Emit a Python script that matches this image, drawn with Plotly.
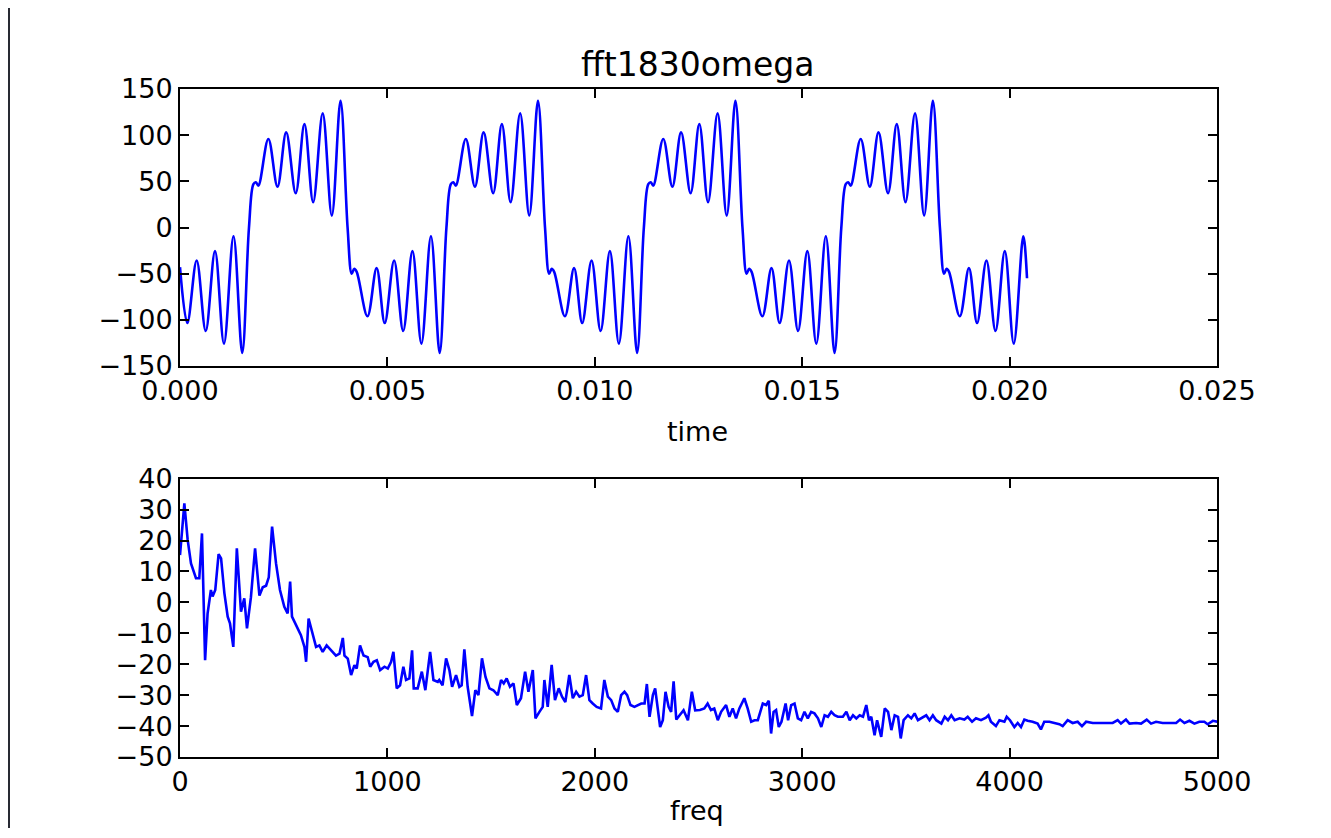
import plotly.graph_objects as go
from plotly.subplots import make_subplots

# ---------------- data: time signal (key points) ----------------
time_s = [
    0.0, 0.000176, 0.000402, 0.00062, 0.000844, 0.00106, 0.00129, 0.0015, 0.001663,
    0.00177, 0.00183, 0.00189, 0.00213, 0.00235, 0.00256, 0.00279, 0.00300, 0.00321,
    0.00344, 0.00366, 0.00387, 0.00404, 0.00414, 0.00420, 0.00426, 0.00452, 0.00474,
    0.004936, 0.005162, 0.00538, 0.005604, 0.00582, 0.00605, 0.00626, 0.006423,
    0.00653, 0.00659, 0.00665, 0.00689, 0.00711, 0.00732, 0.00755, 0.00776, 0.00797,
    0.00820, 0.00842, 0.00863, 0.00880, 0.00890, 0.00896, 0.00902, 0.00928, 0.00950,
    0.009696, 0.009922, 0.01014, 0.010364, 0.01058, 0.01081, 0.01102, 0.011183,
    0.01129, 0.01135, 0.01141, 0.01165, 0.01187, 0.01208, 0.01231, 0.01252, 0.01273,
    0.01296, 0.01318, 0.01339, 0.01356, 0.01366, 0.01372, 0.01378, 0.01404, 0.01426,
    0.014456, 0.014682, 0.01490, 0.015124, 0.01534, 0.01557, 0.01578, 0.015943,
    0.01605, 0.01611, 0.01617, 0.01641, 0.01663, 0.01684, 0.01707, 0.01728, 0.01749,
    0.01772, 0.01794, 0.01815, 0.01832, 0.01842, 0.01848, 0.01854, 0.01880, 0.01902,
    0.019216, 0.019442, 0.01966, 0.019884, 0.02010, 0.02033, 0.02042,
]
signal = [
    -43, -103.5, -35.7, -112, -25.6, -125.8, -9.4, -135.9, 0,
    47, 49, 45.4, 95.9, 44.3, 103, 37.1, 112, 27.4,
    123.6, 13, 137.3, 0, -50, -44.7, -48, -96.2, -44,
    -103.5, -35.7, -112, -25.6, -125.8, -9.4, -135.9, 0,
    47, 49, 45.4, 95.9, 44.3, 103, 37.1, 112, 27.4,
    123.6, 13, 137.3, 0, -50, -44.7, -48, -96.2, -44,
    -103.5, -35.7, -112, -25.6, -125.8, -9.4, -135.9, 0,
    47, 49, 45.4, 95.9, 44.3, 103, 37.1, 112, 27.4,
    123.6, 13, 137.3, 0, -50, -44.7, -48, -96.2, -44,
    -103.5, -35.7, -112, -25.6, -125.8, -9.4, -135.9, 0,
    47, 49, 45.4, 95.9, 44.3, 103, 37.1, 112, 27.4,
    123.6, 13, 137.3, 0, -50, -44.7, -48, -96.2, -44,
    -103.5, -35.7, -112, -25.6, -125.8, -9.4, -55,
]

# ---------------- data: spectrum (dB) ----------------
freq = [
    0, 21, 37, 53, 77, 93, 106, 121, 133, 149, 157, 170, 186, 198, 214, 230, 241, 257,
    274, 294, 310, 323, 342, 362, 383, 399, 415, 428, 444, 463, 482, 503, 519, 531, 540,
    559, 583, 600, 608, 620, 637, 656, 672, 688, 707, 728, 752, 769, 785, 793, 809, 825,
    841, 852, 868, 885, 905, 917, 933, 949, 965, 986, 1002, 1018, 1029, 1045, 1061, 1077,
    1090, 1106, 1119, 1127, 1146, 1166, 1183, 1206, 1222, 1243,
    1250, 1266, 1283, 1299, 1312, 1331, 1347, 1358, 1371, 1387, 1408, 1424, 1439, 1456,
    1473, 1492, 1511, 1532, 1548, 1561, 1575, 1591, 1608, 1624, 1644, 1664, 1680, 1701,
    1714, 1733, 1749, 1757, 1773, 1792, 1808, 1826, 1842, 1858, 1877, 1894, 1910, 1926,
    1942, 1958, 1974, 1990, 2009, 2030, 2046, 2063, 2079, 2095, 2111, 2127, 2143, 2156,
    2172, 2191, 2208, 2224, 2240, 2251, 2264, 2280, 2291, 2315, 2328, 2341, 2356, 2368,
    2380, 2393, 2409, 2428, 2449, 2468, 2484,
    2507, 2528, 2544, 2560, 2576, 2593, 2609, 2633, 2649, 2665, 2681, 2697, 2721, 2737,
    2754, 2770, 2786, 2810, 2826, 2839, 2850, 2862, 2874, 2887, 2900, 2920, 2932, 2947,
    2963, 2979, 2995, 3011, 3027, 3043, 3059, 3076, 3092, 3108, 3124, 3140, 3156, 3172,
    3196, 3213, 3229, 3245, 3261, 3277, 3293, 3309, 3322, 3333, 3349, 3361, 3381, 3398,
    3414, 3430, 3446, 3462, 3475, 3489, 3510, 3526, 3542, 3558, 3574, 3598, 3614, 3630,
    3646, 3671, 3687, 3703, 3719, 3735, 3759,
    3782, 3798, 3819, 3838, 3862, 3886, 3898, 3910, 3934, 3951, 3975, 3986, 4002, 4023,
    4039, 4055, 4071, 4087, 4111, 4135, 4151, 4167, 4192, 4216, 4240, 4256, 4280, 4304,
    4328, 4349, 4369, 4401, 4433, 4465, 4497, 4521, 4537, 4561, 4578, 4610, 4634, 4661,
    4682, 4706, 4738, 4771, 4803, 4822, 4843, 4867, 4891, 4915, 4939, 4955, 4980, 5003,
]
fft_db = [
    15.3, 32, 20.2, 12.6, 7.8, 7.8, 22.3, -18.7, -3.6, 4, 1.9, 4, 15.6, 14.2, 3, -4.6, -6.8, -14.4,
    17.5, -3, 1.3, -8.4, 1.7, 17.5, 2.2, 4.9, 5.4, 8.1, 24.5, 12.6, 4, -1.4, -3.6, 6.7, -4.6,
    -7.3, -10.6, -14.4, -19.2, -5.2, -10, -14.4, -13.9, -16, -13.9, -15.5, -17.2, -16.6, -11.5, -17.2, -18.2, -23.5,
    -20.3, -21.4, -13.9, -17.2, -17.7, -20.8, -19.2, -18.7, -21.9, -20.8, -21.4, -19.2, -16, -27.8, -26.8, -20.8,
    -25.1, -24.6, -15.5, -27.8, -27.8, -22.4, -28.4, -16, -25.1, -25.7,
    -25.1, -26.8, -18.1, -21.9, -27.3, -23.5, -27.3, -26.8, -15.2, -27.3, -36.8, -28.4, -30, -18.1,
    -24.1, -27.8, -28.4, -30, -25.1, -26.2, -24.6, -27.3, -26.2, -33.2, -31, -22.4, -28.9, -21.9,
    -37.5, -35.4, -33.8, -25.1, -33.8, -20.2, -31.6, -27.8, -30.5, -32.2, -23.5, -31, -28.9, -30.5,
    -30, -23.5, -31.6, -32.7, -33.8, -34.3, -25.1, -30.5, -31.6, -34.3, -35.4, -30, -28.9, -30,
    -33.2, -33.8, -33.2, -32.7, -32.7, -26.4, -37, -30, -27.8, -40.3, -38.1, -28.9, -33.8, -35.4,
    -25.5, -37.9, -36.5, -34.9, -38.1, -28.9, -34.9,
    -34.8, -34.3, -32.7, -34.8, -34.3, -38.1, -35.4, -33.2, -37, -34.3, -37.5, -34.3, -31, -34.3,
    -38.6, -38.1, -38.1, -32.7, -33.2, -31.8, -42.4, -35.4, -34.8, -40.3, -38.6, -32.7, -38.1, -33.2,
    -32.7, -37.5, -38.1, -35.4, -37.5, -35.4, -35.9, -37.5, -40.3, -36.5, -37, -35.4, -36.5, -37,
    -37, -35.4, -38.1, -36.5, -37.5, -36.5, -37, -33.2, -38.1, -37, -43, -38.1, -43.5, -34.3,
    -35.4, -41.3, -36.5, -37, -44, -38.1, -36.5, -37.5, -35.9, -38.1, -37.5, -36.5, -38.1, -36.5,
    -38.1, -39.2, -37, -38.1, -36.5, -38.1, -37.5,
    -37.9, -37, -38.6, -37.5, -38.1, -37.3, -36.5, -38.6, -40, -38.1, -38.6, -37, -38.1, -40.3,
    -39, -40.3, -37.9, -38.3, -38.6, -39.2, -41.1, -38.6, -38.6, -39, -39.4, -40, -38.1, -39,
    -38.6, -40, -38.6, -39, -39, -39, -39, -38.1, -39.2, -37.9, -39.2, -39, -39.2, -37.9,
    -39.2, -38.6, -39, -39, -39, -37.9, -39, -38.3, -39.2, -38.6, -38.6, -39.4, -38.3, -38.6,
]

time_ticks = [0.0, 0.005, 0.010, 0.015, 0.020, 0.025]
signal_ticks = [-150, -100, -50, 0, 50, 100, 150]
freq_ticks = [0, 1000, 2000, 3000, 4000, 5000]
db_ticks = [-50, -40, -30, -20, -10, 0, 10, 20, 30, 40]

assert len(time_s) == len(signal), (len(time_s), len(signal))
assert len(freq) == len(fft_db), (len(freq), len(fft_db))

# ---------------- figure ----------------
# The page body has an 8px margin, so the figure is shrunk and positions are
# given in window (screen) pixels minus that offset.
OFF = 8
W, H = 1331 - 2 * OFF, 838 - 2 * OFF - 2
# plot area in screen px: x 180..1217 ; y 88.7..756.8
ML = 180 - OFF
MR = W - (1217 - OFF)
MT = 89 - OFF
MB = H - (757 - OFF)
PW, PH = W - ML - MR, H - MT - MB

FONT = "DejaVu Sans"
BLUE = "#0000ff"
DARK = "#282a33"

fig = make_subplots(rows=2, cols=1)
fig.add_trace(go.Scatter(x=time_s, y=signal, mode="lines",
                         line=dict(color=BLUE, width=2.6, shape="spline", smoothing=1.0),
                         showlegend=False), row=1, col=1)
fig.add_trace(go.Scatter(x=freq, y=fft_db, mode="lines",
                         line=dict(color=BLUE, width=2.6),
                         showlegend=False), row=2, col=1)

axis_common = dict(showline=True, linecolor="black", linewidth=2, mirror="allticks",
                   ticks="inside", ticklen=9, tickwidth=1.5, tickcolor="black",
                   showgrid=False, zeroline=False,
                   tickfont=dict(family=FONT, size=27, color="black"))


def sx(p):  # screen x px -> paper
    return (p - OFF - ML) / PW


def sy(p):  # screen y px -> paper
    return (H - MB - (p - OFF)) / PH


top_domain = [sy(366), sy(89)]
bot_domain = [sy(757), sy(478.7)]

fig.update_layout(
    width=W, height=H,
    margin=dict(l=ML, r=MR, t=MT, b=MB),
    paper_bgcolor="white", plot_bgcolor="white",
    xaxis=dict(domain=[0, 1], range=[0, 0.025], tickvals=time_ticks,
               ticktext=[f"{v:.3f}" for v in time_ticks], **axis_common),
    yaxis=dict(domain=[max(0, top_domain[0]), min(1, top_domain[1])], range=[-150, 150],
               tickvals=signal_ticks, **axis_common),
    xaxis2=dict(domain=[0, 1], range=[0, 5000], tickvals=freq_ticks, **axis_common),
    yaxis2=dict(domain=[max(0, bot_domain[0]), min(1, bot_domain[1])], range=[-50, 40],
                tickvals=db_ticks, **axis_common),
)

# texts
fig.add_annotation(text="fft1830omega", x=sx(697), y=sy(65), xref="paper", yref="paper",
                   showarrow=False, xanchor="center", yanchor="middle",
                   font=dict(family=FONT, size=33, color="black"))
fig.add_annotation(text="time", x=sx(697), y=sy(431), xref="paper", yref="paper",
                   showarrow=False, xanchor="center", yanchor="middle",
                   font=dict(family=FONT, size=27, color="black"))
fig.add_annotation(text="freq", x=sx(697), y=sy(810), xref="paper", yref="paper",
                   showarrow=False, xanchor="center", yanchor="middle",
                   font=dict(family=FONT, size=27, color="black"))

# visible remnant of the dark window frame on the left edge
fig.add_shape(type="rect", xref="paper", yref="paper",
              x0=sx(OFF), x1=sx(10), y0=sy(OFF + H), y1=sy(OFF),
              fillcolor=DARK, line=dict(width=0), layer="above")

fig.write_html("out.html")
